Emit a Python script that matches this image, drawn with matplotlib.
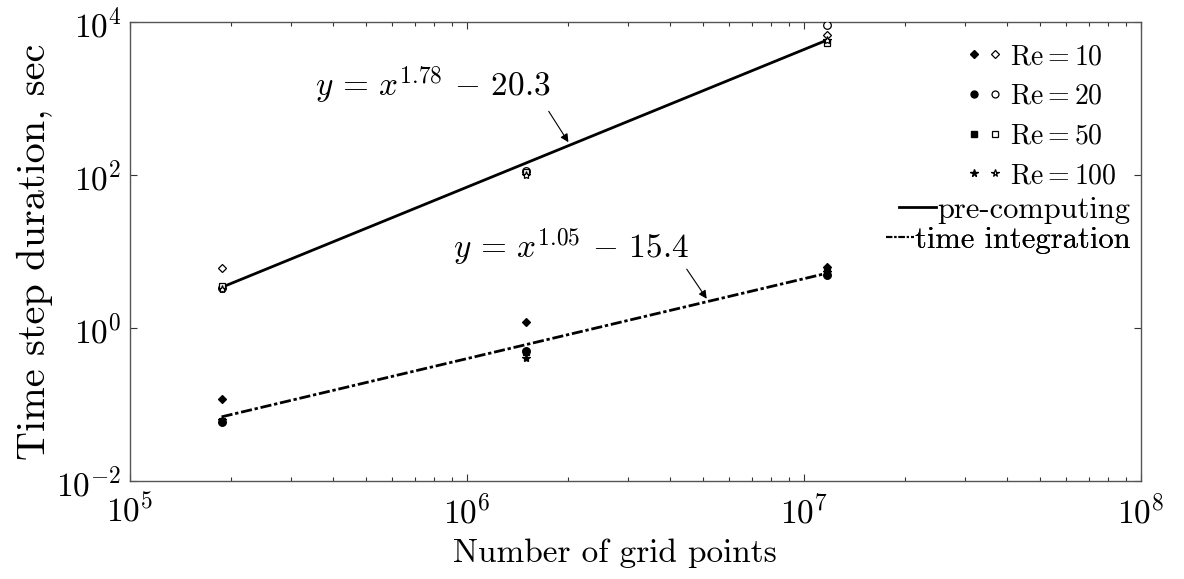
import numpy as np
import matplotlib
matplotlib.use("Agg")
import matplotlib.pyplot as plt
from matplotlib.lines import Line2D
from matplotlib.legend_handler import HandlerTuple
from matplotlib.ticker import LogLocator, NullFormatter, FixedLocator, NullLocator

plt.rcParams["font.family"] = "serif"
plt.rcParams["font.serif"] = ["cmr10"]
plt.rcParams["mathtext.fontset"] = "cm"
plt.rcParams["axes.formatter.use_mathtext"] = True

# Mesh sizes
grid_points = [1.87e5, 1.5e6, 1.17e7]

# Pre-computing time per step (s)
re10_pre = [6.1, 110, 6800]
re20_pre = [3.3, 112, 9100]
re50_pre = [3.5, 108, 5300]
re100_pre = [3.2, 100, 5800]

# Time integration time per step (s)
re10_int = [0.118, 1.2, 6.3]
re20_int = [0.059, 0.5, 4.9]
re50_int = [0.061, 0.48, 5.6]
re100_int = [0.062, 0.41, 5.4]

# Power-law fits
fit_x = [1.87e5, 1.17e7]
pre_fit = [3.4, 5800]
int_fit = [0.069, 5.2]

labels = [r"$\mathrm{Re}=10$", r"$\mathrm{Re}=20$", r"$\mathrm{Re}=50$", r"$\mathrm{Re}=100$"]
line_labels = ["pre-computing", "time integration"]
markers = ["D", "o", "s", "*"]
msizes = [4.5, 5.5, 4.5, 6]

fig = plt.figure(figsize=(11.84, 5.79), dpi=100)
ax = fig.add_axes([130 / 1184, 1 - 481 / 579, (1141 - 130) / 1184, (481 - 22) / 579])

ax.plot(fit_x, pre_fit, color="black", lw=2.0, zorder=2)
ax.plot(fit_x, int_fit, color="black", lw=2.0, ls=(0, (4, 1, 1.2, 1)), zorder=2)

pre_sets = [re10_pre, re20_pre, re50_pre, re100_pre]
int_sets = [re10_int, re20_int, re50_int, re100_int]
handles = []
for m, s, yp, yi in zip(markers, msizes, pre_sets, int_sets):
    ax.plot(grid_points, yp, ls="none", marker=m, ms=s, mfc="white", mec="black", mew=0.9, zorder=3)
    ax.plot(grid_points, yi, ls="none", marker=m, ms=s, mfc="black", mec="black", mew=0.9, zorder=3)
    hf = Line2D([], [], ls="none", marker=m, ms=s - 0.5, mfc="black", mec="black")
    ho = Line2D([], [], ls="none", marker=m, ms=s - 0.5, mfc="white", mec="black", mew=0.9)
    handles.append((hf, ho))

ax.set_xscale("log")
ax.set_yscale("log")
ax.set_xlim(1e5, 1e8)
ax.set_ylim(1e-2, 1e4)
ax.xaxis.set_major_locator(LogLocator(base=10, numticks=10))
ax.xaxis.set_minor_locator(LogLocator(base=10, subs=np.arange(2, 10), numticks=20))
ax.xaxis.set_minor_formatter(NullFormatter())
ax.yaxis.set_major_locator(FixedLocator([1e-2, 1e0, 1e2, 1e4]))
ax.yaxis.set_minor_locator(NullLocator())

for sp in ax.spines.values():
    sp.set_color("#555555")
    sp.set_linewidth(1.0)
ax.tick_params(which="both", direction="in", top=True, right=True, color="#333333", width=0.8)
ax.tick_params(which="major", length=5, labelsize=24)
ax.tick_params(axis="x", which="major", pad=9)
ax.tick_params(axis="y", which="major", pad=6)
ax.tick_params(which="minor", length=3)

ax.set_xlabel("Number of grid points", fontsize=24, labelpad=4)
ax.xaxis.set_label_coords(0.48, -0.125)
ax.set_ylabel("Time step duration, sec", fontsize=29, labelpad=2)

# Fit equations with arrows
ax.text(3.55e5, 1500, r"$y\,=\,x^{1.78}\,-\,20.3$", fontsize=24, va="center", ha="left")
ax.annotate("", xy=(2.02e6, 250), xytext=(1.73e6, 730),
            arrowprops=dict(arrowstyle="-|>", color="black", lw=0.8, mutation_scale=12))
ax.text(9.1e5, 11.5, r"$y\,=\,x^{1.05}\,-\,15.4$", fontsize=24, va="center", ha="left")
ax.annotate("", xy=(5.2e6, 2.25), xytext=(4.44e6, 6.3),
            arrowprops=dict(arrowstyle="-|>", color="black", lw=0.8, mutation_scale=12))

leg1 = ax.legend(handles, labels, handler_map={tuple: HandlerTuple(ndivide=None, pad=0.3)},
                 loc="upper right", bbox_to_anchor=(0.995, 0.995), frameon=False, fontsize=20,
                 handlelength=1.2, handletextpad=0.3, labelspacing=0.48, borderaxespad=0.3)
ax.add_artist(leg1)

# Line legend entries, each right-aligned on its own
line_handles = [Line2D([], [], color="black", lw=2.0),
                Line2D([], [], color="black", lw=1.5, ls=(0, (3, 1, 1, 1)))]
anchors_y = [0.653, 0.588]
lens = [1.2, 0.9]
for h, lab, yy, hl in zip(line_handles, line_labels, anchors_y, lens):
    lg = ax.legend([h], [lab], loc="upper right", bbox_to_anchor=(1.005, yy), frameon=False,
                   fontsize=22, handlelength=hl, handletextpad=0.05, borderaxespad=0.3,
                   borderpad=0.2)
    ax.add_artist(lg)

fig.savefig("out.png", dpi=100)
